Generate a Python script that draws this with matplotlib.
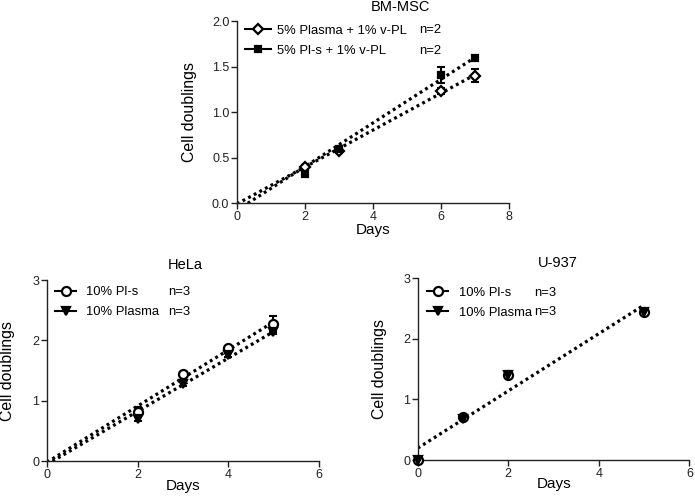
"""
plot.py - cell doubling curves for BM-MSC, HeLa and U-937 cultures
"""
import numpy as np
import matplotlib
matplotlib.use("Agg")
import matplotlib.pyplot as plt
from matplotlib.lines import Line2D

plt.rcParams['font.family'] = ['Liberation Sans', 'DejaVu Sans']

# BM-MSC
msc_days = [2, 3, 6, 7]
msc_plasma = [0.40, 0.57, 1.23, 1.40]
msc_plasma_err = [0.02, 0.02, 0.03, 0.07]
msc_pls = [0.32, 0.59, 1.41, 1.60]
msc_pls_err = [0.02, 0.02, 0.09, 0.02]
msc_labels = ['5% Plasma + 1% v-PL', '5% Pl-s + 1% v-PL']
msc_n = ['n=2', 'n=2']

# HeLa
hela_days = [2, 3, 4, 5]
hela_pls = [0.82, 1.44, 1.88, 2.27]
hela_pls_err = [0.07, 0.03, 0.03, 0.13]
hela_plasma = [0.70, 1.28, 1.76, 2.14]
hela_plasma_err = [0.03, 0.03, 0.03, 0.03]

# U-937
u937_days = [0, 1, 2, 5]
u937_pls = [0.0, 0.71, 1.41, 2.44]
u937_pls_err = [0.02, 0.02, 0.02, 0.02]
u937_plasma = [0.0, 0.68, 1.40, 2.44]
u937_plasma_err = [0.02, 0.02, 0.02, 0.02]

line_labels = ['10% Pl-s', '10% Plasma']
line_n = ['n=3', 'n=3']

LEG_FS = 9.4


def style_axes(ax, xmax, ymax, ystep, yfmt):
    # prism-like axes: left and bottom only, ticks outward
    for side in ['top', 'right']:
        ax.spines[side].set_visible(False)
    for side in ['left', 'bottom']:
        ax.spines[side].set_linewidth(1.0)
        ax.spines[side].set_color('#222222')
    ax.set_xlim(0, xmax)
    ax.set_ylim(0, ymax)
    ax.set_xticks(np.arange(0, xmax + 1, 2))
    ax.set_yticks(np.arange(0, ymax + ystep / 2, ystep))
    ax.set_yticklabels([yfmt.format(v) for v in np.arange(0, ymax + ystep / 2, ystep)])
    ax.tick_params(direction='out', length=4, width=1, labelsize=9, pad=1.5, colors='#222222')
    ax.set_xlabel('Days', fontsize=11)
    ax.set_ylabel('Cell doublings', fontsize=11.4)


def fit_line(ax, days, vals, add_origin):
    # linear regression, drawn dotted from day 0 to last day
    x = np.array(days, dtype=float)
    y = np.array(vals, dtype=float)
    if add_origin:
        x = np.append(0.0, x)
        y = np.append(0.0, y)
    slope, icpt = np.polyfit(x, y, 1)
    xs = np.array([0.0, max(days)])
    ax.plot(xs, slope * xs + icpt, color='black', lw=2.3,
            linestyle=(0, (0.9, 1.1)), zorder=2)


def series(ax, days, vals, err, marker, ms, face):
    ax.errorbar(days, vals, yerr=err, fmt='none', ecolor='black',
                elinewidth=1.5, capsize=3.2, capthick=1.5, zorder=3)
    ax.plot(days, vals, linestyle='none', marker=marker, ms=ms,
            mfc=face, mec='black', mew=1.6, zorder=4, clip_on=False)


def add_legend(ax, handles, labels, nlabels, x0, rows, nx, hlen, tpad):
    ymid = (rows[0] + rows[1]) / 2
    leg = ax.legend(handles, labels, loc='center left', bbox_to_anchor=(x0, ymid),
                    frameon=False, fontsize=LEG_FS, handlelength=hlen, handletextpad=tpad,
                    labelspacing=0.6, borderpad=0, borderaxespad=0)
    for t, yy in zip(nlabels, rows):
        ax.text(nx, yy, t, transform=ax.transAxes, fontsize=LEG_FS, va='center', ha='left')
    return leg


fig = plt.figure(figsize=(6.95, 4.97), dpi=100)

# --- BM-MSC ---
ax1 = fig.add_axes([0.341, 0.5915, 0.391, 0.366])
style_axes(ax1, 8, 2.0, 0.5, '{:.1f}')
fit_line(ax1, msc_days, msc_plasma, True)
fit_line(ax1, msc_days, msc_pls, True)
series(ax1, msc_days, msc_plasma, msc_plasma_err, 'D', 5.5, 'white')
series(ax1, msc_days, msc_pls, msc_pls_err, 's', 5, 'black')
ax1.set_title('BM-MSC', fontsize=10.5, x=0.603, pad=7)
ax1.xaxis.set_label_coords(0.5, -0.11)
ax1.yaxis.set_label_coords(-0.147, 0.5)
h1 = [Line2D([], [], color='black', lw=1.5, marker='D', ms=5.5, mfc='white', mew=1.6),
      Line2D([], [], color='black', lw=1.5, marker='s', ms=5, mfc='black', mew=1.6)]
add_legend(ax1, h1, msc_labels, msc_n, 0.03, [0.951, 0.835], 0.669, 2.0, 0.45)

# --- HeLa ---
ax2 = fig.add_axes([0.0676, 0.0724, 0.391, 0.364])
style_axes(ax2, 6, 3, 1, '{:.0f}')
fit_line(ax2, hela_days, hela_pls, True)
fit_line(ax2, hela_days, hela_plasma, True)
series(ax2, hela_days, hela_pls, hela_pls_err, 'o', 6.5, 'white')
series(ax2, hela_days, hela_plasma, hela_plasma_err, 'v', 6, 'black')
ax2.set_title('HeLa', fontsize=10.5, x=0.507, pad=8)
ax2.xaxis.set_label_coords(0.5, -0.1)
ax2.yaxis.set_label_coords(-0.118, 0.5)
h2 = [Line2D([], [], color='black', lw=1.5, marker='o', ms=6.5, mfc='white', mew=1.6),
      Line2D([], [], color='black', lw=1.5, marker='v', ms=6, mfc='black', mew=1.6)]
add_legend(ax2, h2, line_labels, line_n, 0.03, [0.934, 0.823], 0.445, 1.6, 0.8)

# --- U-937 ---
ax3 = fig.add_axes([0.601, 0.0744, 0.391, 0.366])
style_axes(ax3, 6, 3, 1, '{:.0f}')
fit_line(ax3, u937_days, u937_pls, False)
series(ax3, u937_days, u937_pls, u937_pls_err, 'o', 6.5, 'white')
series(ax3, u937_days, u937_plasma, u937_plasma_err, 'v', 6, 'black')
ax3.set_title('U-937', fontsize=10.5, x=0.515, pad=8)
ax3.xaxis.set_label_coords(0.5, -0.093)
ax3.yaxis.set_label_coords(-0.114, 0.5)
add_legend(ax3, h2, line_labels, line_n, 0.035, [0.918, 0.813], 0.43, 1.6, 0.8)

fig.savefig('out.png', dpi=100)
